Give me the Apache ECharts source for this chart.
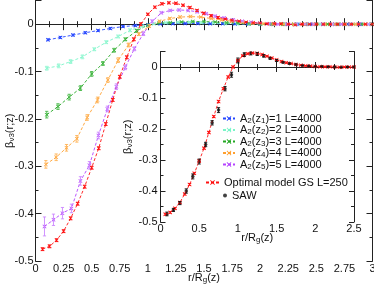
<!DOCTYPE html>
<html><head><meta charset="utf-8">
<script src="https://cdn.jsdelivr.net/npm/echarts@6/dist/echarts.min.js"></script>
<style>html,body{margin:0;padding:0;background:#fff}#c{width:374px;height:286px}</style>
</head><body><div id="c"></div>
<script>
const FONT = '"Liberation Sans", Arial, sans-serif';

// ---- data ----
const mainXTicks = { min: 0, max: 3, interval: 0.25 };
const mainYTicks = { min: -0.5, max: 0.05, interval: 0.1 };
const insetXTicks = { min: 0, max: 2.5, interval: 0.5 };
const insetYTicks = { min: -0.5, max: 0.05, interval: 0.1 };

const names = ['A2(z1)=1 L=4000','A2(z2)=2 L=4000','A2(z3)=3 L=4000','A2(z4)=4 L=4000','A2(z5)=5 L=4000','Optimal model GS L=250','SAW'];

const blueX = [0.111,0.222,0.333,0.444,0.556,0.667,0.778,0.889,1.0,1.111,1.222,1.333,1.444,1.556,1.667,1.778,1.889,2.0,2.111,2.222,2.333,2.444,2.556,2.667,2.778,2.889,3.0];
const blueY = [-0.033,-0.028,-0.023,-0.018,-0.0135,-0.009,-0.005,-0.003,-0.001,0.0005,0.001,0.0015,0.0015,0.001,0.001,0.0005,0.0005,0,0,0,0,0,0,0,0,0,0];
const blueE = [0.002,0.002,0.002,0.002,0.002,0.002,0.002,0.0015,0.0015,0.001,0.001,0.001,0.001,0.001,0.001,0.001,0.001,0.001,0.001,0.001,0.001,0.001,0.001,0.001,0.001,0.001,0.001];

const aquaX = [0.1,0.206,0.312,0.418,0.524,0.63,0.736,0.842,0.948,1.054,1.16,1.266,1.372,1.478,1.584,1.69,1.796,1.902,2.008,2.114,2.22,2.326,2.432,2.538,2.644,2.75,2.856,2.962];
const aquaY = [-0.093,-0.088,-0.079,-0.069,-0.053,-0.038,-0.026,-0.013,-0.004,0.001,0.003,0.004,0.004,0.003,0.002,0.0015,0.001,0.0005,0,0,0,0,0,0,0,0,0,0];
const aquaE = [0.004,0.004,0.004,0.004,0.003,0.003,0.003,0.003,0.002,0.002,0.001,0.001,0.001,0.001,0.001,0.001,0.001,0.001,0.001,0.001,0.001,0.001,0.001,0.001,0.001,0.001,0.001,0.001];

const greenX = [0.1,0.2,0.3,0.4,0.5,0.6,0.7,0.8,0.9,1.0,1.1,1.2,1.3,1.4,1.5,1.6,1.7,1.8,1.9,2.0,2.1,2.2,2.3,2.4,2.5,2.6,2.7,2.8,2.9,3.0];
const greenY = [-0.191,-0.174,-0.154,-0.135,-0.105,-0.083,-0.055,-0.032,-0.014,-0.002,0.002,0.003,0.0045,0.0055,0.0055,0.0045,0.003,0.002,0.001,0.0005,0,0,0,0,0,0,0,0,0,0];
const greenE = [0.007,0.006,0.006,0.005,0.005,0.004,0.004,0.003,0.003,0.002,0.001,0.001,0.001,0.001,0.001,0.001,0.001,0.001,0.001,0.001,0.001,0.001,0.001,0.001,0.001,0.001,0.001,0.001,0.001,0.001];

const orangeX = [0.092,0.184,0.276,0.368,0.46,0.552,0.644,0.736,0.828,0.92,1.012,1.104,1.196,1.288,1.38,1.472,1.564,1.656,1.748,1.84,1.932,2.024,2.116,2.208,2.3,2.392,2.484,2.576,2.668,2.76,2.852,2.944];
const orangeY = [-0.296,-0.281,-0.261,-0.242,-0.197,-0.16,-0.118,-0.076,-0.044,-0.021,-0.004,0.006,0.012,0.015,0.016,0.015,0.012,0.009,0.006,0.004,0.002,0.001,0,0,0,0,0,0,0,0,0,0];
const orangeE = [0.008,0.007,0.007,0.007,0.006,0.006,0.005,0.005,0.004,0.003,0.003,0.002,0.002,0.002,0.001,0.001,0.001,0.001,0.001,0.001,0.001,0.001,0.001,0.001,0.001,0.001,0.001,0.001,0.001,0.001,0.001,0.001];

const purpleX = [0.08,0.16,0.24,0.32,0.4,0.48,0.56,0.64,0.72,0.8,0.88,0.96,1.04,1.12,1.2,1.28,1.36,1.44,1.52,1.6,1.68,1.76,1.84,1.92,2.0,2.08,2.16,2.24,2.32,2.4,2.48,2.56,2.64,2.72,2.8,2.88,2.96];
const purpleY = [-0.427,-0.413,-0.399,-0.389,-0.331,-0.298,-0.235,-0.179,-0.132,-0.091,-0.052,-0.02,0.006,0.024,0.029,0.030,0.029,0.026,0.022,0.017,0.013,0.009,0.006,0.004,0.002,0.001,0,0,0,0,0,0,0,0,0,0,0];
const purpleE = [0.02,0.012,0.012,0.009,0.009,0.008,0.007,0.006,0.006,0.005,0.004,0.004,0.003,0.002,0.002,0.002,0.002,0.002,0.002,0.002,0.002,0.002,0.001,0.001,0.001,0.001,0.001,0.001,0.001,0.001,0.001,0.001,0.001,0.001,0.001,0.001,0.001];

const redX = [0.0625,0.125,0.1875,0.25,0.3125,0.375,0.4375,0.5,0.5625,0.625,0.6875,0.75,0.8125,0.875,0.9375,1.0,1.0625,1.125,1.1875,1.25,1.3125,1.375,1.4375,1.5,1.5625,1.625,1.6875,1.75,1.8125,1.875,1.9375,2.0,2.0625,2.125,2.1875,2.25,2.3125,2.375,2.4375,2.5,2.5625,2.625,2.6875,2.75,2.8125,2.875,2.9375,3.0];
const redY = [-0.475,-0.469,-0.456,-0.437,-0.41,-0.379,-0.343,-0.303,-0.262,-0.211,-0.16,-0.111,-0.07,-0.032,0.0,0.021,0.036,0.043,0.045,0.044,0.040,0.035,0.029,0.023,0.018,0.014,0.011,0.008,0.006,0.004,0.003,0.002,0.001,0.001,0.001,0,-0.001,0,0,0,0,0,0,0,0,0,0,0];
const redE = [0.003,0.003,0.003,0.003,0.003,0.003,0.003,0.003,0.003,0.003,0.003,0.003,0.003,0.003,0.003,0.002,0.002,0.002,0.002,0.002,0.002,0.002,0.002,0.002,0.002,0.002,0.001,0.001,0.001,0.001,0.001,0.001,0.001,0.001,0.001,0.001,0.001,0.001,0.001,0.001,0.001,0.001,0.001,0.001,0.001,0.001,0.001,0.001];

const sawX = [0.083,0.167,0.25,0.333,0.417,0.5,0.583,0.667,0.75,0.833,0.917,1.0,1.083,1.167,1.25,1.333,1.417,1.5,1.583,1.667,1.75,1.833,1.917,2.0,2.083,2.167,2.25,2.333,2.417,2.5];
const sawY = [-0.474,-0.461,-0.439,-0.40,-0.353,-0.305,-0.25,-0.18,-0.139,-0.07,-0.025,0.021,0.040,0.044,0.042,0.036,0.028,0.021,0.015,0.011,0.008,0.005,0.003,0.002,0.002,0.001,0.0,-0.001,0,0];
const sawE = [0.006,0.005,0.005,0.007,0.008,0.008,0.007,0.007,0.008,0.007,0.008,0.008,0.006,0.005,0.005,0.004,0.003,0.003,0.002,0.002,0.002,0.001,0.001,0.001,0.001,0.001,0.001,0.001,0.001,0.001];

// ---- styling ----
const colors = { blue:'#2446ff', aqua:'#7af5c8', green:'#22a822', orange:'#ffa030', purple:'#b443ff', red:'#ff1010', black:'#111' };
const errColors = { blue:'#2446ff', aqua:'#9af7d5', green:'#44b844', orange:'#ffb255', purple:'#cc88ff', red:'#ff1010', black:'#111' };
const AX = '#222';
const cross = 'path://M0,1.2L1.2,0L5,3.8L8.8,0L10,1.2L6.2,5L10,8.8L8.8,10L5,6.2L1.2,10L0,8.8L3.8,5Z';

const rich = {
  n: { fontSize: 11, fontFamily: FONT, color: '#111', lineHeight: 12, verticalAlign: 'middle' },
  s: { fontSize: 8, fontFamily: FONT, color: '#111', lineHeight: 6, verticalAlign: 'bottom' }
};
const legendLabels = {
  'A2(z1)=1 L=4000': '{n|A}{s|2}{n|(z}{s|1}{n|)=1 L=4000}',
  'A2(z2)=2 L=4000': '{n|A}{s|2}{n|(z}{s|2}{n|)=2 L=4000}',
  'A2(z3)=3 L=4000': '{n|A}{s|2}{n|(z}{s|3}{n|)=3 L=4000}',
  'A2(z4)=4 L=4000': '{n|A}{s|2}{n|(z}{s|4}{n|)=4 L=4000}',
  'A2(z5)=5 L=4000': '{n|A}{s|2}{n|(z}{s|5}{n|)=5 L=4000}',
  'Optimal model GS L=250': '{n|Optimal model GS L=250}',
  'SAW': '{n|SAW}'
};
const xName = '{n|r/R}{s|g}{n|(z)}';
const yName = '{n|β}{s|ν3}{n|(r;z)}';

function pairs(xs, ys) { return xs.map((x, i) => [x, ys[i]]); }
function triples(xs, ys, es) { return xs.map((x, i) => [x, ys[i], es[i]]); }

function errRender(params, api) {
  const x = api.value(0), y = api.value(1), e = api.value(2);
  const p1 = api.coord([x, y - e]), p2 = api.coord([x, y + e]);
  const w = 1.6;
  const style = { stroke: api.visual('color'), lineWidth: 0.9, fill: null };
  return { type: 'group', children: [
    { type: 'line', shape: { x1: p1[0], y1: p1[1], x2: p2[0], y2: p2[1] }, style },
    { type: 'line', shape: { x1: p1[0] - w, y1: p1[1], x2: p1[0] + w, y2: p1[1] }, style },
    { type: 'line', shape: { x1: p2[0] - w, y1: p2[1], x2: p2[0] + w, y2: p2[1] }, style }
  ]};
}

function lineSeries(name, xs, ys, c, gi) {
  return { type: 'line', name, xAxisIndex: gi * 2, yAxisIndex: gi * 4, data: pairs(xs, ys),
    symbol: cross, symbolSize: 4, showSymbol: true, showAllSymbol: true,
    lineStyle: { color: colors[c], width: 0.9, type: [3, 2] }, itemStyle: { color: colors[c] },
    clip: true, animation: false, z: 3, emphasis: { disabled: true } };
}
function errSeries(xs, ys, es, c, gi) {
  return { type: 'custom', name: 'err-' + c + gi, xAxisIndex: gi * 2, yAxisIndex: gi * 4,
    data: triples(xs, ys, es), renderItem: errRender, itemStyle: { color: errColors[c] },
    encode: { x: 0, y: 1 }, clip: true, animation: false, z: 4, silent: true };
}

function xAxes(gi, t, tl, ml, nameGap, margin) {
  const base = { type: 'value', gridIndex: gi, min: t.min, max: t.max, interval: t.interval,
    axisLine: { show: true, lineStyle: { color: AX, width: 1 } }, splitLine: { show: false },
    axisTick: { show: true, inside: true, length: tl, lineStyle: { color: AX } },
    minorTick: { show: true, splitNumber: 2, length: ml, lineStyle: { color: AX } } };
  return [
    Object.assign({}, base, { position: 'bottom',
      axisLabel: { show: true, interval: 0, margin: margin, fontSize: 11, fontFamily: FONT, color: '#111' },
      name: xName, nameLocation: 'middle', nameGap: nameGap, nameMoveOverlap: false,
      nameTextStyle: { rich } }),
    Object.assign({}, base, { position: 'top', axisLabel: { show: false } })
  ];
}
function yAxes(gi, t, tl, ml, nameGap, margin) {
  const major = { type: 'value', gridIndex: gi, min: t.min, max: t.max, interval: t.interval,
    axisLine: { show: true, lineStyle: { color: AX, width: 1 } }, splitLine: { show: false },
    axisTick: { show: true, inside: true, length: tl, lineStyle: { color: AX } } };
  const minor = { type: 'value', gridIndex: gi, min: t.min, max: t.max, interval: t.interval / 2,
    axisLine: { show: false }, splitLine: { show: false }, axisLabel: { show: false },
    axisTick: { show: true, inside: true, length: ml, lineStyle: { color: AX } } };
  return [
    Object.assign({}, major, { position: 'left',
      axisLabel: { show: true, margin: margin, fontSize: 11, fontFamily: FONT, color: '#111',
        formatter: v => (Math.abs(Math.round(v * 10) - v * 10) > 1e-6) ? '' : String(+v.toFixed(2)) },
      name: yName, nameLocation: 'middle', nameRotate: 90, nameGap: nameGap, nameMoveOverlap: false,
      nameTextStyle: { rich } }),
    Object.assign({}, minor, { position: 'left' }),
    Object.assign({}, major, { position: 'right', axisLabel: { show: false } }),
    Object.assign({}, minor, { position: 'right' })
  ];
}

const legendCommon = { orient: 'vertical', itemGap: 0, padding: 0, selectedMode: false,
  textStyle: { rich, fontSize: 11, fontFamily: FONT, color: '#111' },
  formatter: name => legendLabels[name] };

const option = {
  backgroundColor: '#fff',
  animation: false,
  grid: [
    { left: 35.5, right: 1.5, top: 0.5, bottom: 25, outerBoundsMode: 'none', containLabel: false },
    { left: 160.5, right: 20, top: 51.5, bottom: 64, outerBoundsMode: 'none', containLabel: false,
      show: true, backgroundColor: '#fff', borderWidth: 0 }
  ],
  xAxis: [].concat(xAxes(0, mainXTicks, 6, 3, 11, 2), xAxes(1, insetXTicks, 5, 3, 10, 1)),
  yAxis: [].concat(yAxes(0, mainYTicks, 6, 3, 20, 2), yAxes(1, insetYTicks, 5, 3, 27, 3)),
  legend: [
    Object.assign({}, legendCommon, { data: names.slice(0, 5), left: 222, top: 113, itemWidth: 12, itemHeight: 6 }),
    Object.assign({}, legendCommon, { data: [names[5]], left: 205, top: 177, itemWidth: 13, itemHeight: 6 }),
    Object.assign({}, legendCommon, { data: [names[6]], left: 223, top: 190, itemWidth: 4, itemHeight: 4, icon: 'circle' })
  ],
  series: [
    lineSeries(names[0], blueX, blueY, 'blue', 0),
    lineSeries(names[1], aquaX, aquaY, 'aqua', 0),
    lineSeries(names[2], greenX, greenY, 'green', 0),
    lineSeries(names[3], orangeX, orangeY, 'orange', 0),
    lineSeries(names[4], purpleX, purpleY, 'purple', 0),
    lineSeries(names[5], redX, redY, 'red', 0),
    errSeries(blueX, blueY, blueE, 'blue', 0),
    errSeries(aquaX, aquaY, aquaE, 'aqua', 0),
    errSeries(greenX, greenY, greenE, 'green', 0),
    errSeries(orangeX, orangeY, orangeE, 'orange', 0),
    errSeries(purpleX, purpleY, purpleE, 'purple', 0),
    errSeries(redX, redY, redE, 'red', 0),
    { type: 'scatter', name: names[6], xAxisIndex: 2, yAxisIndex: 4, data: pairs(sawX, sawY),
      symbol: 'circle', symbolSize: 3.5, itemStyle: { color: colors.black }, z: 2, animation: false, clip: true },
    lineSeries(names[5], redX, redY, 'red', 1),
    errSeries(redX, redY, redE, 'red', 1),
    errSeries(sawX, sawY, sawE, 'black', 1)
  ]
};

const chart = echarts.init(document.getElementById('c'), null, { renderer: 'canvas' });
chart.setOption(option);
</script>
</body></html>
